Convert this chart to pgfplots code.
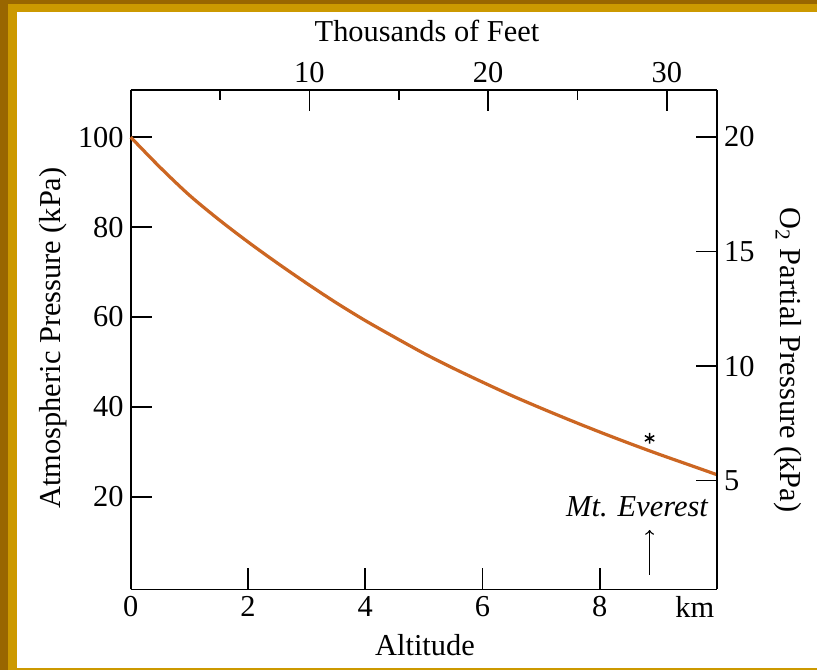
\documentclass[border=0pt]{standalone}
\usepackage{pgfplots}
\pgfplotsset{compat=1.18}
\usepackage{fontspec}
\setmainfont{Liberation Serif}
\definecolor{framedark}{RGB}{153,102,0}
\definecolor{framegold}{RGB}{204,153,0}
\definecolor{curvecol}{RGB}{204,102,34}
\newcommand{\chartfont}{\fontsize{15.2}{18}\selectfont}
\pgfplotstableread{
h P
0.0 100.0
0.5 93.3
1.0 87.1
1.5 81.7
2.0 76.7
2.5 72.0
3.0 67.5
3.5 63.2
4.0 59.2
4.5 55.5
5.0 51.9
5.5 48.6
6.0 45.5
6.5 42.5
7.0 39.7
7.5 37.0
8.0 34.4
8.5 31.9
9.0 29.5
9.5 27.2
10.0 24.9
}\pressure
\begin{document}
\begin{tikzpicture}[x=1pt,y=1pt]
\useasboundingbox (0,0) rectangle (408.5,335);
\fill[white] (0,0) rectangle (408.5,335);
\fill[framegold] (4.15,0) rectangle (8.35,335);
\fill[framegold] (4.15,328.85) rectangle (408.5,333);
\fill[framegold] (8.35,0) rectangle (408.5,0.85);
\fill[framedark] (0,0) rectangle (4.15,335);
\fill[framedark] (0,333) rectangle (408.5,335);
\begin{axis}[
  at={(65.35pt,40.35pt)}, anchor=south west,
  scale only axis, width=293.15pt, height=249.65pt,
  xmin=0, xmax=10, ymin=-0.6, ymax=110.5,
  axis x line*=bottom, axis y line*=left,
  axis line style={-, line width=0.8pt, black},
  tick align=inside, major tick length=10.5pt,
  every tick/.style={line width=0.8pt, black},
  xtick={0,2,4,6,8}, ytick={20,40,60,80,100},
  extra x ticks={9.62}, extra x tick labels={km},
  extra x tick style={major tick length=0pt},
  ticklabel style={font=\chartfont},
  /pgf/number format/assume math mode=true,
  clip=false,
]
\addplot[curvecol, line width=1.6pt, smooth] table[x=h, y=P] {\pressure};
\addplot[only marks, mark=asterisk, mark size=2.7pt, black, mark options={line width=0.75pt}] coordinates {(8.85,33.0)};
\draw[->, line width=0.7pt, black] (axis cs:8.85,2.6) -- (axis cs:8.85,12.6);
\end{axis}
\begin{axis}[
  at={(65.35pt,40.35pt)}, anchor=south west,
  scale only axis, width=293.15pt, height=249.65pt,
  xmin=0, xmax=32.81, ymin=0.262, ymax=22.04,
  axis x line*=top, axis y line*=right,
  axis line style={-, line width=0.8pt, black},
  tick align=inside, major tick length=10.5pt, minor tick length=5pt,
  every tick/.style={line width=0.8pt, black},
  every minor tick/.style={line width=0.8pt, black},
  xtick={10,20,30}, minor xtick={5,15,25}, ytick={5,10,15,20},
  ticklabel style={font=\chartfont},
  /pgf/number format/assume math mode=true,
]
\end{axis}
\node[font=\chartfont, anchor=base] at (212.5,7.5) {Altitude};
\node[font=\chartfont, anchor=base] at (213.5,314) {Thousands of Feet};
\node[font=\chartfont, anchor=base, rotate=90] at (30,166) {Atmospheric Pressure (kPa)};
\node[font=\chartfont, anchor=base, rotate=-90] at (390,155) {O\textsubscript{2} Partial Pressure (kPa)};
\node[font=\chartfont\itshape, anchor=base] at (318.5,76.65) {Mt. Everest};
\end{tikzpicture}
\end{document}
